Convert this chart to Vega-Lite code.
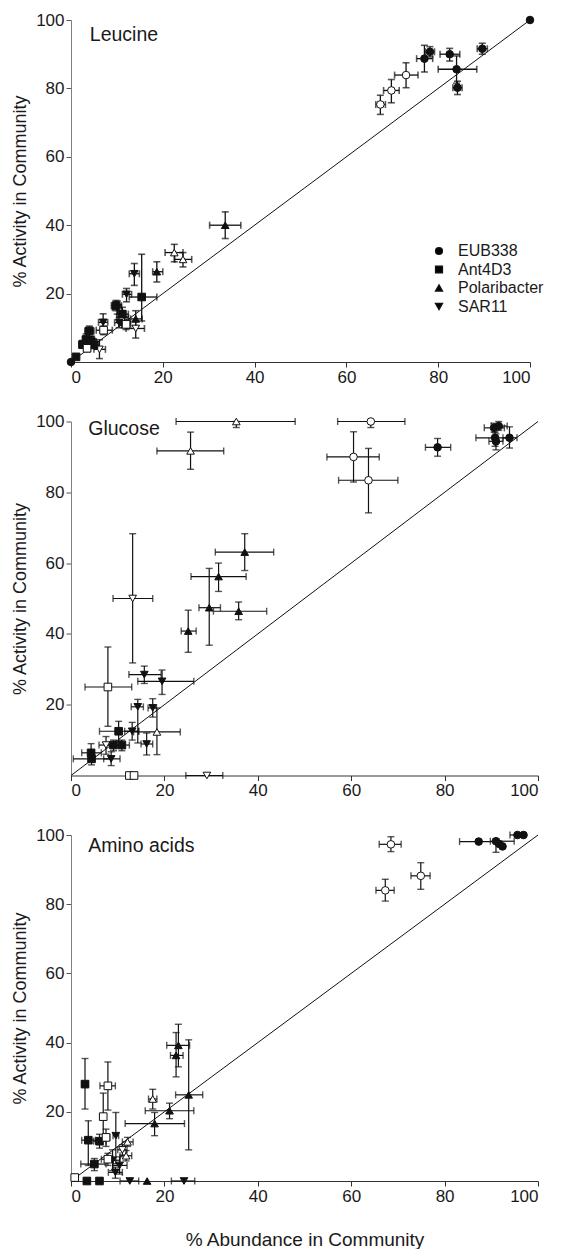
{
"$schema": "https://vega.github.io/schema/vega-lite/v6.json",
"padding": {"left": 11, "top": 11, "right": 0, "bottom": 0},
"bounds": "flush",
"spacing": 59.5,
"config": {
  "view": {"stroke": null},
  "font": "Liberation Sans",
  "axis": {"labelFont": "Liberation Sans", "labelFontSize": 17, "titleFont": "Liberation Sans", "titleFontSize": 18, "titleFontWeight": "normal", "labelColor": "#1a1a1a", "titleColor": "#1a1a1a", "grid": false, "tickSize": 5, "tickColor": "#333333", "domainColor": "#333333", "labelPadding": 2},
  "axisY": {"domainColor": "#808080", "tickColor": "#555555"},
  "legend": {"labelFont": "Liberation Sans", "labelFontSize": 16, "labelColor": "#1a1a1a"}
},
"datasets": {"d": [
{"p":"L","g":"EUB338","f":"filled","x":100,"y":100},
{"p":"L","g":"EUB338","f":"filled","x":77,"y":88.7,"xl":75.3,"xh":78.8,"yl":84.8,"yh":92.6},
{"p":"L","g":"EUB338","f":"filled","x":78.2,"y":90.7,"xl":77.2,"xh":79.2,"yl":89.2,"yh":92.2},
{"p":"L","g":"EUB338","f":"filled","x":82.5,"y":90,"xl":80.4,"xh":84.7,"yl":88,"yh":91.7},
{"p":"L","g":"EUB338","f":"filled","x":84,"y":85.6,"xl":80,"xh":88.4,"yl":81.5,"yh":89.5},
{"p":"L","g":"EUB338","f":"filled","x":84.2,"y":80.2,"xl":83.2,"xh":85.2,"yl":78.2,"yh":82.1},
{"p":"L","g":"EUB338","f":"filled","x":89.6,"y":91.6,"xl":88.5,"xh":90.7,"yl":90,"yh":93.2},
{"p":"L","g":"EUB338","f":"filled","x":0,"y":0},
{"p":"L","g":"EUB338","f":"open","x":73,"y":83.9,"xl":70.5,"xh":75.6,"yl":80.2,"yh":87.5},
{"p":"L","g":"EUB338","f":"open","x":69.8,"y":79.4,"xl":68.1,"xh":71.5,"yl":75.8,"yh":82.6},
{"p":"L","g":"EUB338","f":"open","x":67.4,"y":75.3,"xl":66.4,"xh":68.5,"yl":72.4,"yh":78},
{"p":"L","g":"Polaribacter","f":"filled","x":33.6,"y":40,"xl":30.2,"xh":37,"yl":36.1,"yh":43.9},
{"p":"L","g":"Polaribacter","f":"filled","x":18.7,"y":26.4,"xl":17.8,"xh":20,"yl":23.4,"yh":29.3},
{"p":"L","g":"Polaribacter","f":"filled","x":14.1,"y":12.6,"xl":13,"xh":15.5,"yl":10.5,"yh":15},
{"p":"L","g":"Polaribacter","f":"filled","x":11.6,"y":11.6,"xl":10.5,"xh":12.8,"yl":10,"yh":13.2},
{"p":"L","g":"Polaribacter","f":"open","x":22.5,"y":32,"xl":20.5,"xh":24.4,"yl":29.3,"yh":34.4},
{"p":"L","g":"Polaribacter","f":"open","x":24.4,"y":30,"xl":22.6,"xh":26.3,"yl":27.8,"yh":32},
{"p":"L","g":"Polaribacter","f":"open","x":11,"y":13,"xl":10,"xh":12.5,"yl":11,"yh":15},
{"p":"L","g":"SAR11","f":"filled","x":13.8,"y":25.8,"xl":12.7,"xh":14.9,"yl":22.4,"yh":28.8},
{"p":"L","g":"SAR11","f":"filled","x":12.1,"y":19.8,"xl":11.2,"xh":13.2,"yl":17.6,"yh":21.5},
{"p":"L","g":"SAR11","f":"filled","x":10.1,"y":16,"xl":9,"xh":11,"yl":14,"yh":17.8},
{"p":"L","g":"SAR11","f":"filled","x":7,"y":11.6,"xl":6,"xh":8,"yl":8.8,"yh":14.1},
{"p":"L","g":"SAR11","f":"filled","x":10.5,"y":11.5,"xl":9.5,"xh":11.5,"yl":10,"yh":13},
{"p":"L","g":"SAR11","f":"open","x":14.1,"y":9.8,"xl":12,"xh":16,"yl":7,"yh":12},
{"p":"L","g":"SAR11","f":"open","x":6.2,"y":3.7,"xl":5,"xh":7.5,"yl":1,"yh":6.5},
{"p":"L","g":"SAR11","f":"open","x":4.5,"y":6,"xl":3.5,"xh":5.5,"yl":4.5,"yh":7.5},
{"p":"L","g":"Ant4D3","f":"filled","x":15.4,"y":19,"xl":12.7,"xh":18.7,"yl":12,"yh":31.5},
{"p":"L","g":"Ant4D3","f":"filled","x":9.8,"y":16.5,"xl":8.8,"xh":11,"yl":15,"yh":18},
{"p":"L","g":"Ant4D3","f":"filled","x":11.2,"y":14,"xl":10,"xh":12.5,"yl":12,"yh":16},
{"p":"L","g":"Ant4D3","f":"filled","x":4,"y":9.1,"xl":3,"xh":5,"yl":7.5,"yh":10.5},
{"p":"L","g":"Ant4D3","f":"filled","x":3.3,"y":6.6,"xl":2.5,"xh":4.2,"yl":5,"yh":8.2},
{"p":"L","g":"Ant4D3","f":"filled","x":4.3,"y":6.1,"xl":3.5,"xh":5.2,"yl":4.5,"yh":7.5},
{"p":"L","g":"Ant4D3","f":"filled","x":2.5,"y":5.1,"xl":1.8,"xh":3.3,"yl":4,"yh":6.3},
{"p":"L","g":"Ant4D3","f":"filled","x":1.1,"y":1.5},
{"p":"L","g":"Ant4D3","f":"filled","x":5,"y":5,"xl":4,"xh":6,"yl":4,"yh":6.5},
{"p":"L","g":"Ant4D3","f":"open","x":7.1,"y":9.3,"xl":5.5,"xh":9,"yl":8,"yh":10.5},
{"p":"L","g":"Ant4D3","f":"open","x":12,"y":11,"xl":11,"xh":13,"yl":9.5,"yh":12.5},
{"p":"L","g":"Ant4D3","f":"open","x":3.5,"y":4,"xl":2.8,"xh":4.2,"yl":3,"yh":5},

{"p":"G","g":"EUB338","f":"filled","x":78.5,"y":92.7,"xl":75.9,"xh":81.3,"yl":90.2,"yh":95.2},
{"p":"G","g":"EUB338","f":"filled","x":90.6,"y":98.2,"xl":88.5,"xh":92.8,"yl":97,"yh":99.5},
{"p":"G","g":"EUB338","f":"filled","x":91.6,"y":98.7,"xl":90,"xh":93.4,"yl":97.5,"yh":100},
{"p":"G","g":"EUB338","f":"filled","x":90.8,"y":95.4,"xl":86.7,"xh":93.8,"yl":93,"yh":97},
{"p":"G","g":"EUB338","f":"filled","x":91,"y":94.4,"xl":89.5,"xh":92.5,"yl":92,"yh":96.5},
{"p":"G","g":"EUB338","f":"filled","x":93.9,"y":95.4,"xl":92.5,"xh":95.5,"yl":92.5,"yh":98.5},
{"p":"G","g":"EUB338","f":"open","x":64.2,"y":100,"xl":57.1,"xh":71.5,"yl":98.3,"yh":100},
{"p":"G","g":"EUB338","f":"open","x":60.5,"y":90,"xl":54.8,"xh":66,"yl":82.9,"yh":97.1},
{"p":"G","g":"EUB338","f":"open","x":63.7,"y":83.4,"xl":57.3,"xh":70,"yl":74.2,"yh":92.4},
{"p":"G","g":"Polaribacter","f":"open","x":35.4,"y":100,"xl":22.5,"xh":48,"yl":98.3,"yh":100},
{"p":"G","g":"Polaribacter","f":"open","x":25.6,"y":91.7,"xl":18.4,"xh":32.7,"yl":86.5,"yh":97},
{"p":"G","g":"Polaribacter","f":"open","x":18.4,"y":12.3,"xl":13.4,"xh":23.4,"yl":5.9,"yh":19.1},
{"p":"G","g":"Polaribacter","f":"filled","x":37.2,"y":63.1,"xl":30.9,"xh":43.4,"yl":57.9,"yh":68.3},
{"p":"G","g":"Polaribacter","f":"filled","x":31.6,"y":56.2,"xl":25.7,"xh":37.5,"yl":52,"yh":60},
{"p":"G","g":"Polaribacter","f":"filled","x":29.6,"y":47.4,"xl":27.4,"xh":32,"yl":36.8,"yh":58.5},
{"p":"G","g":"Polaribacter","f":"filled","x":35.9,"y":46.4,"xl":30.5,"xh":41.9,"yl":44,"yh":49},
{"p":"G","g":"Polaribacter","f":"filled","x":25.1,"y":40.8,"xl":23.6,"xh":26.8,"yl":34.8,"yh":46.7},
{"p":"G","g":"SAR11","f":"open","x":13.2,"y":50,"xl":9,"xh":17.5,"yl":31.8,"yh":68.3},
{"p":"G","g":"SAR11","f":"open","x":7.5,"y":8.6,"xl":6,"xh":9,"yl":6,"yh":11},
{"p":"G","g":"SAR11","f":"open","x":29.1,"y":0,"xl":24.6,"xh":32.5},
{"p":"G","g":"SAR11","f":"filled","x":15.7,"y":28.5,"xl":12.4,"xh":19.3,"yl":26,"yh":30.9},
{"p":"G","g":"SAR11","f":"filled","x":19.5,"y":26.6,"xl":14.3,"xh":26.3,"yl":22.9,"yh":29.8},
{"p":"G","g":"SAR11","f":"filled","x":14.3,"y":19.4,"xl":12.9,"xh":15.5,"yl":9.2,"yh":21.5},
{"p":"G","g":"SAR11","f":"filled","x":17.5,"y":19.1,"xl":16.5,"xh":18.3,"yl":16.5,"yh":21.7},
{"p":"G","g":"SAR11","f":"filled","x":13.1,"y":12.5,"xl":11.5,"xh":14.5,"yl":10,"yh":15},
{"p":"G","g":"SAR11","f":"filled","x":16.2,"y":8.9,"xl":15,"xh":17.5,"yl":5.8,"yh":12},
{"p":"G","g":"SAR11","f":"filled","x":8.6,"y":4.7,"xl":7,"xh":10.5,"yl":2.8,"yh":6.7},
{"p":"G","g":"Ant4D3","f":"open","x":7.9,"y":25,"xl":3,"xh":13,"yl":13.9,"yh":36.3},
{"p":"G","g":"Ant4D3","f":"open","x":12.5,"y":0,"xl":12,"xh":13},
{"p":"G","g":"Ant4D3","f":"open","x":13.5,"y":0,"xl":13,"xh":14},
{"p":"G","g":"Ant4D3","f":"filled","x":10.2,"y":12.5,"xl":6.1,"xh":14.5,"yl":9.7,"yh":15.3},
{"p":"G","g":"Ant4D3","f":"filled","x":9.1,"y":8.6,"xl":7.5,"xh":11,"yl":7,"yh":10},
{"p":"G","g":"Ant4D3","f":"filled","x":10.9,"y":8.6,"xl":9.5,"xh":12.5,"yl":7,"yh":10},
{"p":"G","g":"Ant4D3","f":"filled","x":4.3,"y":6.4,"xl":2.3,"xh":6.5,"yl":4.5,"yh":9},
{"p":"G","g":"Ant4D3","f":"filled","x":4.4,"y":4.7,"xl":0.5,"xh":8.5,"yl":3,"yh":6.5},

{"p":"A","g":"EUB338","f":"filled","x":87.3,"y":98.1,"xl":83.2,"xh":91.4},
{"p":"A","g":"EUB338","f":"filled","x":91,"y":98.2,"xl":89.8,"xh":94.9,"yl":95,"yh":98.9},
{"p":"A","g":"EUB338","f":"filled","x":91.7,"y":97.4},
{"p":"A","g":"EUB338","f":"filled","x":92.4,"y":96.7},
{"p":"A","g":"EUB338","f":"filled","x":95.6,"y":100,"xl":94,"xh":97},
{"p":"A","g":"EUB338","f":"filled","x":96.9,"y":100},
{"p":"A","g":"EUB338","f":"open","x":68.5,"y":97.3,"xl":66,"xh":70.7,"yl":95.2,"yh":99.5},
{"p":"A","g":"EUB338","f":"open","x":74.9,"y":88.2,"xl":72.8,"xh":76.9,"yl":84.3,"yh":92},
{"p":"A","g":"EUB338","f":"open","x":67.3,"y":84,"xl":65.3,"xh":69.2,"yl":80.9,"yh":87.2},
{"p":"A","g":"Polaribacter","f":"filled","x":23,"y":39.2,"xl":20.5,"xh":25.4,"yl":33,"yh":45.3},
{"p":"A","g":"Polaribacter","f":"filled","x":22.5,"y":36.3,"xl":21.3,"xh":24,"yl":30.1,"yh":42.9},
{"p":"A","g":"Polaribacter","f":"filled","x":25.2,"y":24.9,"xl":22.4,"xh":28.2,"yl":9,"yh":40.8},
{"p":"A","g":"Polaribacter","f":"filled","x":21.1,"y":20.3,"xl":15.9,"xh":26.3,"yl":18,"yh":22.5},
{"p":"A","g":"Polaribacter","f":"filled","x":17.9,"y":16.6,"xl":11.6,"xh":24.3,"yl":13.1,"yh":19.8},
{"p":"A","g":"Polaribacter","f":"filled","x":16.3,"y":0},
{"p":"A","g":"Polaribacter","f":"open","x":17.5,"y":23.7,"xl":16.6,"xh":18.4,"yl":20.8,"yh":26.5},
{"p":"A","g":"Polaribacter","f":"open","x":12.1,"y":11.3,"xl":11,"xh":13.3,"yl":10,"yh":12.6},
{"p":"A","g":"Polaribacter","f":"open","x":11.8,"y":7.3,"xl":10.5,"xh":13,"yl":5.8,"yh":8.8},
{"p":"A","g":"SAR11","f":"filled","x":9.6,"y":13.1,"xl":9,"xh":10.2,"yl":5,"yh":19.8},
{"p":"A","g":"SAR11","f":"filled","x":8.9,"y":6,"xl":7.5,"xh":10.5,"yl":3,"yh":9},
{"p":"A","g":"SAR11","f":"filled","x":10.4,"y":4.5,"xl":9,"xh":12,"yl":2,"yh":7},
{"p":"A","g":"SAR11","f":"filled","x":9.5,"y":2.5,"xl":8,"xh":11,"yl":0.8,"yh":4},
{"p":"A","g":"SAR11","f":"filled","x":12.6,"y":0,"xl":10.5,"xh":14.5},
{"p":"A","g":"SAR11","f":"filled","x":24.2,"y":0,"xl":21.5,"xh":26.5},
{"p":"A","g":"SAR11","f":"open","x":11,"y":9,"xl":10,"xh":12,"yl":7.5,"yh":10.5},
{"p":"A","g":"Ant4D3","f":"filled","x":3,"y":28,"xl":2.3,"xh":3.7,"yl":20.8,"yh":35.4},
{"p":"A","g":"Ant4D3","f":"filled","x":3.7,"y":11.8,"xl":2.3,"xh":5.2,"yl":4.5,"yh":17.4},
{"p":"A","g":"Ant4D3","f":"filled","x":6.1,"y":11.5,"xl":4.8,"xh":7.5,"yl":9.5,"yh":13.5},
{"p":"A","g":"Ant4D3","f":"filled","x":5,"y":4.9,"xl":2.1,"xh":7.5,"yl":3,"yh":6.5},
{"p":"A","g":"Ant4D3","f":"filled","x":3.4,"y":0},
{"p":"A","g":"Ant4D3","f":"filled","x":6.1,"y":0},
{"p":"A","g":"Ant4D3","f":"open","x":7.9,"y":27.5,"xl":6.2,"xh":9.5,"yl":20.5,"yh":34.4},
{"p":"A","g":"Ant4D3","f":"open","x":6.9,"y":18.6,"xl":6.3,"xh":7.5,"yl":11.5,"yh":25.4},
{"p":"A","g":"Ant4D3","f":"open","x":7.5,"y":12.6,"xl":6.8,"xh":8.3,"yl":10,"yh":15},
{"p":"A","g":"Ant4D3","f":"open","x":7.9,"y":6.3,"xl":6.5,"xh":9,"yl":4.5,"yh":8},
{"p":"A","g":"Ant4D3","f":"open","x":0.8,"y":1}
]},
"vconcat": [
{
  "width": 459, "height": 342,
  "layer": [
    {"data": {"values": [{}]}, "mark": {"type": "rule", "color": "#111111", "strokeWidth": 1},
     "encoding": {"x": {"datum": 0, "type": "quantitative", "title": null, "scale": {"domain": [0, 100]}, "axis": {"values": [0,20,40,60,80,100], "title": null}}, "y": {"datum": 0, "type": "quantitative", "title": "% Activity in Community", "scale": {"domain": [0, 100]}, "axis": {"values": [20,40,60,80,100], "title": "% Activity in Community", "titlePadding": 6}}, "x2": {"datum": 100}, "y2": {"datum": 100}}},
    {"data": {"values": [{"t": "Leucine"}]}, "mark": {"type": "text", "align": "left", "baseline": "middle", "fontSize": 19.5, "font": "Liberation Sans", "color": "#1a1a1a"},
     "encoding": {"x": {"datum": 4.1, "type": "quantitative", "title": null}, "y": {"datum": 95.6, "type": "quantitative", "title": "% Activity in Community"}, "text": {"field": "t"}}},
    {"data": {"name": "d"}, "transform": [{"filter": "datum.p == 'L'"}],
     "layer": [
      {"mark": {"type": "errorbar", "color": "#111111", "thickness": 1.3, "ticks": {"size": 7, "thickness": 1.6}},
       "encoding": {"x": {"field": "xl", "type": "quantitative", "title": null}, "x2": {"field": "xh"}, "y": {"field": "y", "type": "quantitative", "title": "% Activity in Community"}}},
      {"mark": {"type": "errorbar", "color": "#111111", "thickness": 1.3, "ticks": {"size": 7, "thickness": 1.6}},
       "encoding": {"y": {"field": "yl", "type": "quantitative", "title": "% Activity in Community"}, "y2": {"field": "yh"}, "x": {"field": "x", "type": "quantitative", "title": null}}},
      {"mark": {"type": "point", "stroke": "#111111", "strokeWidth": 1, "size": 58, "opacity": 1, "filled": false},
       "encoding": {"x": {"field": "x", "type": "quantitative", "title": null}, "y": {"field": "y", "type": "quantitative", "title": "% Activity in Community"},
        "shape": {"field": "g", "type": "nominal", "scale": {"domain": ["EUB338", "Ant4D3", "Polaribacter", "SAR11"], "range": ["circle", "square", "triangle-up", "triangle-down"]},
          "legend": {"title": null, "orient": "none", "legendX": 360, "legendY": 223, "symbolFillColor": "#111111", "symbolStrokeColor": "#111111", "symbolSize": 45, "symbolOpacity": 1, "rowPadding": 2.5, "labelOffset": 11}},
        "fill": {"field": "f", "type": "nominal", "scale": {"domain": ["filled", "open"], "range": ["#111111", "#ffffff"]}, "legend": null}}}
     ]}
  ]
},
{
  "width": 467, "height": 354,
  "layer": [
    {"data": {"values": [{}]}, "mark": {"type": "rule", "color": "#111111", "strokeWidth": 1},
     "encoding": {"x": {"datum": 0, "type": "quantitative", "title": null, "scale": {"domain": [0, 100]}, "axis": {"values": [0,20,40,60,80,100], "title": null}}, "y": {"datum": 0, "type": "quantitative", "title": "% Activity in Community", "scale": {"domain": [0, 100]}, "axis": {"values": [20,40,60,80,100], "title": "% Activity in Community", "titlePadding": 6}}, "x2": {"datum": 100}, "y2": {"datum": 100}}},
    {"data": {"values": [{"t": "Glucose"}]}, "mark": {"type": "text", "align": "left", "baseline": "middle", "fontSize": 19.5, "font": "Liberation Sans", "color": "#1a1a1a"},
     "encoding": {"x": {"datum": 3.7, "type": "quantitative", "title": null}, "y": {"datum": 97.8, "type": "quantitative", "title": "% Activity in Community"}, "text": {"field": "t"}}},
    {"data": {"name": "d"}, "transform": [{"filter": "datum.p == 'G'"}],
     "layer": [
      {"mark": {"type": "errorbar", "color": "#111111", "thickness": 1.2, "ticks": {"size": 7, "thickness": 1.4}},
       "encoding": {"x": {"field": "xl", "type": "quantitative", "title": null}, "x2": {"field": "xh"}, "y": {"field": "y", "type": "quantitative", "title": "% Activity in Community"}}},
      {"mark": {"type": "errorbar", "color": "#111111", "thickness": 1.2, "ticks": {"size": 7, "thickness": 1.4}},
       "encoding": {"y": {"field": "yl", "type": "quantitative", "title": "% Activity in Community"}, "y2": {"field": "yh"}, "x": {"field": "x", "type": "quantitative", "title": null}}},
      {"mark": {"type": "point", "stroke": "#111111", "strokeWidth": 1, "size": 58, "opacity": 1, "filled": false},
       "encoding": {"x": {"field": "x", "type": "quantitative", "title": null}, "y": {"field": "y", "type": "quantitative", "title": "% Activity in Community"},
        "shape": {"field": "g", "type": "nominal"},
        "fill": {"field": "f", "type": "nominal", "legend": null}}}
     ]}
  ]
},
{
  "width": 467, "height": 346,
  "layer": [
    {"data": {"values": [{}]}, "mark": {"type": "rule", "color": "#111111", "strokeWidth": 1},
     "encoding": {"x": {"datum": 0, "type": "quantitative", "title": "% Abundance in Community", "scale": {"domain": [0, 100]}, "axis": {"values": [0,20,40,60,80,100], "title": "% Abundance in Community", "titlePadding": 26, "titleFontSize": 19}}, "y": {"datum": 0, "type": "quantitative", "title": "% Activity in Community", "scale": {"domain": [0, 100]}, "axis": {"values": [20,40,60,80,100], "title": "% Activity in Community", "titlePadding": 6}}, "x2": {"datum": 100}, "y2": {"datum": 100}}},
    {"data": {"values": [{"t": "Amino acids"}]}, "mark": {"type": "text", "align": "left", "baseline": "middle", "fontSize": 19.5, "font": "Liberation Sans", "color": "#1a1a1a"},
     "encoding": {"x": {"datum": 3.7, "type": "quantitative", "title": "% Abundance in Community"}, "y": {"datum": 96.8, "type": "quantitative", "title": "% Activity in Community"}, "text": {"field": "t"}}},
    {"data": {"name": "d"}, "transform": [{"filter": "datum.p == 'A'"}],
     "layer": [
      {"mark": {"type": "errorbar", "color": "#111111", "thickness": 1.2, "ticks": {"size": 7, "thickness": 1.4}},
       "encoding": {"x": {"field": "xl", "type": "quantitative", "title": "% Abundance in Community"}, "x2": {"field": "xh"}, "y": {"field": "y", "type": "quantitative", "title": "% Activity in Community"}}},
      {"mark": {"type": "errorbar", "color": "#111111", "thickness": 1.2, "ticks": {"size": 7, "thickness": 1.4}},
       "encoding": {"y": {"field": "yl", "type": "quantitative", "title": "% Activity in Community"}, "y2": {"field": "yh"}, "x": {"field": "x", "type": "quantitative", "title": "% Abundance in Community"}}},
      {"mark": {"type": "point", "stroke": "#111111", "strokeWidth": 1, "size": 58, "opacity": 1, "filled": false},
       "encoding": {"x": {"field": "x", "type": "quantitative", "title": "% Abundance in Community"}, "y": {"field": "y", "type": "quantitative", "title": "% Activity in Community"},
        "shape": {"field": "g", "type": "nominal"},
        "fill": {"field": "f", "type": "nominal", "legend": null}}}
     ]}
  ]
}
]
}
